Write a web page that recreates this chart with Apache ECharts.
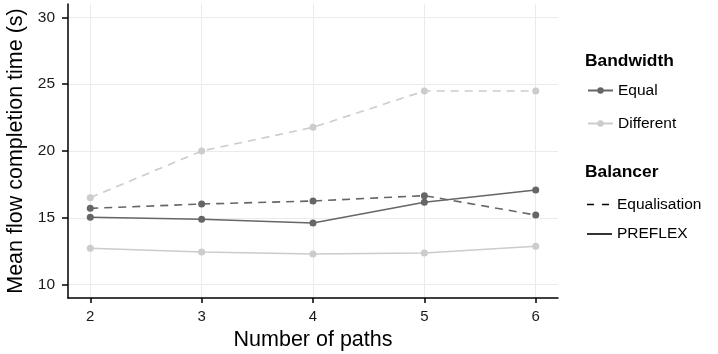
<!DOCTYPE html>
<html>
<head>
<meta charset="utf-8">
<script src="https://cdn.jsdelivr.net/npm/echarts@6/dist/echarts.min.js"></script>
<style>html,body{margin:0;padding:0;background:#fff}#c{width:718px;height:354px}</style>
</head>
<body>
<div id="c"></div>
<script>
const paths = [2, 3, 4, 5, 6];
const xTicks = [2, 3, 4, 5, 6];
const yTicks = [10, 15, 20, 25, 30];
const equalEqualisation = [15.71, 16.03, 16.26, 16.66, 15.21];
const equalPreflex = [15.04, 14.89, 14.61, 16.16, 17.08];
const differentEqualisation = [16.51, 20.0, 21.77, 24.49, 24.49];
const differentPreflex = [12.72, 12.44, 12.29, 12.37, 12.87];

const DARK = '#666666', LIGHT = '#cccccc';
const FONT = '"Liberation Sans", Arial, sans-serif';
const dash = [8, 6];

function pts(vals) { return paths.map((p, i) => [p, vals[i]]); }
function realSeries(name, vals, color, dashed) {
  return {
    name: name, type: 'line', data: pts(vals), symbol: 'circle', symbolSize: 7,
    lineStyle: { color: color, width: 1.6, type: dashed ? dash : 'solid' },
    itemStyle: { color: color }, emphasis: { disabled: true }, animation: false, z: 3
  };
}
function dummy(name, color, symbol) {
  return {
    name: name, type: 'line', data: [], symbol: symbol, symbolSize: 6,
    lineStyle: { color: color, width: 1.6 },
    itemStyle: { color: color }, animation: false
  };
}

const chart = echarts.init(document.getElementById('c'), null, { renderer: 'canvas' });
chart.setOption({
  animation: false,
  textStyle: { fontFamily: FONT },
  grid: { left: 68, right: 160, top: 4, bottom: 56, containLabel: false, outerBoundsMode: 'none' },
  xAxis: {
    type: 'value', min: 1.8, max: 6.2,
    name: 'Number of paths', nameLocation: 'middle', nameGap: 28,
    nameTextStyle: { fontSize: 21.5, color: '#000', fontFamily: FONT },
    axisLine: { show: true, onZero: false, lineStyle: { color: '#000', width: 1.5 } },
    axisTick: { show: true, inside: false, length: 5, customValues: xTicks, lineStyle: { color: '#000', width: 1.5 } },
    axisLabel: { customValues: xTicks, fontSize: 15, color: '#1a1a1a', margin: 11, fontFamily: FONT },
    splitLine: { show: true, lineStyle: { color: '#ebebeb', width: 1 } }
  },
  yAxis: {
    type: 'value', min: 9, max: 31,
    name: 'Mean flow completion time (s)', nameLocation: 'middle', nameGap: 34, nameRotate: 90,
    nameTextStyle: { fontSize: 21.5, color: '#000', fontFamily: FONT },
    axisLine: { show: true, onZero: false, lineStyle: { color: '#000', width: 1.5 } },
    axisTick: { show: true, inside: false, length: 6, customValues: yTicks, lineStyle: { color: '#000', width: 1.5 } },
    axisLabel: { customValues: yTicks, fontSize: 15.5, color: '#1a1a1a', margin: 13, fontFamily: FONT },
    splitLine: { show: true, lineStyle: { color: '#ebebeb', width: 1 } }
  },
  legend: [
    {
      data: ['Equal', 'Different'], orient: 'vertical', left: 587, top: 82.5, padding: 0,
      itemWidth: 25, itemHeight: 8, itemGap: 17,
      textStyle: { fontSize: 15.5, color: '#000', fontFamily: FONT }, selectedMode: false
    },
    {
      data: [
        { name: 'Equalisation', icon: 'path://M0,0h7v1.6h-7zM15,0h7v1.6h-7zM24.95,0h0.05v1.6h-0.05z' },
        { name: 'PREFLEX', icon: 'path://M0,0h25v1.6h-25z' }
      ],
      orient: 'vertical', left: 587, top: 196.5, padding: 0,
      itemWidth: 25, itemHeight: 1.6, itemGap: 13.5,
      textStyle: { fontSize: 15.5, color: '#000', fontFamily: FONT }, selectedMode: false
    }
  ],
  graphic: [
    { type: 'text', left: 585, top: 53, style: { text: 'Bandwidth', font: 'bold 17.4px ' + FONT, fill: '#000' } },
    { type: 'text', left: 585, top: 164, style: { text: 'Balancer', font: 'bold 17.4px ' + FONT, fill: '#000' } }
  ],
  series: [
    realSeries('Different · PREFLEX', differentPreflex, LIGHT, false),
    realSeries('Different · Equalisation', differentEqualisation, LIGHT, true),
    realSeries('Equal · Equalisation', equalEqualisation, DARK, true),
    realSeries('Equal · PREFLEX', equalPreflex, DARK, false),
    dummy('Equal', DARK, 'circle'),
    dummy('Different', LIGHT, 'circle'),
    dummy('Equalisation', '#000', 'none'),
    dummy('PREFLEX', '#000', 'none')
  ]
});
</script>
</body>
</html>
